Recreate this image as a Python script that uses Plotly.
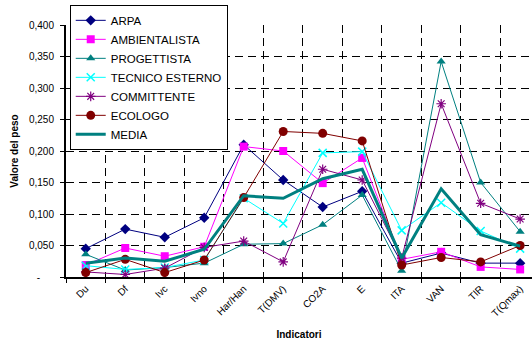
import plotly.graph_objects as go

categories = ["Du", "Df", "Ivc", "Ivno", "Har/Han", "T(DMV)", "CO2A", "E", "ITA", "VAN", "TIR", "T(Qmax)"]

arpa = [0.045, 0.076, 0.063, 0.094, 0.210, 0.154, 0.111, 0.136, 0.022, 0.038, 0.022, 0.022]
ambientalista = [0.019, 0.046, 0.033, 0.048, 0.207, 0.200, 0.149, 0.189, 0.028, 0.040, 0.016, 0.012]
progettista = [0.036, 0.011, 0.015, 0.022, 0.052, 0.053, 0.083, 0.130, 0.010, 0.342, 0.150, 0.072]
tecnico = [0.018, 0.012, 0.015, 0.027, 0.125, 0.085, 0.197, 0.199, 0.074, 0.118, 0.073, 0.045]
committente = [0.008, 0.004, 0.014, 0.047, 0.057, 0.024, 0.171, 0.154, 0.030, 0.275, 0.117, 0.092]
ecologo = [0.007, 0.028, 0.007, 0.027, 0.126, 0.231, 0.228, 0.216, 0.019, 0.031, 0.024, 0.050]
media = [0.022, 0.030, 0.025, 0.044, 0.129, 0.125, 0.156, 0.171, 0.030, 0.140, 0.067, 0.049]

y_ticks = [0, 0.05, 0.10, 0.15, 0.20, 0.25, 0.30, 0.35, 0.40]
y_ticktext = ["-\u00a0\u00a0\u00a0\u00a0\u00a0", "0,050", "0,100", "0,150", "0,200", "0,250", "0,300", "0,350", "0,400"]

FONT = "Arial, Liberation Sans, sans-serif"

series = [
    ("ARPA", arpa, "#000080", dict(symbol="diamond", size=8, color="#000080")),
    ("AMBIENTALISTA", ambientalista, "#FF00FF", dict(symbol="square", size=8, color="#FF00FF")),
    ("PROGETTISTA", progettista, "#008080", dict(symbol="triangle-up", size=8, color="#008080")),
    ("TECNICO ESTERNO", tecnico, "#00FFFF", dict(symbol="x-thin-open", size=8, color="#00FFFF", line=dict(color="#00FFFF", width=1.5))),
    ("COMMITTENTE", committente, "#800080", dict(symbol="asterisk-open", size=8, color="#800080", line=dict(color="#800080", width=1.2))),
    ("ECOLOGO", ecologo, "#800000", dict(symbol="circle", size=9, color="#800000")),
]

fig = go.Figure()
for name, vals, col, mk in series:
    fig.add_trace(go.Scatter(x=categories, y=vals, name=name, mode="lines+markers",
                             line=dict(color=col, width=1), marker=mk))
fig.add_trace(go.Scatter(x=categories, y=media, name="MEDIA", mode="lines",
                         line=dict(color="#008080", width=3)))

fig.update_layout(
    width=532, height=340,
    margin=dict(l=66, r=0, t=25, b=63),
    paper_bgcolor="white", plot_bgcolor="white",
    font=dict(family=FONT, size=10, color="black"),
    showlegend=True,
    legend=dict(x=0.008, y=1.08, xanchor="left", yanchor="top",
                bgcolor="white", bordercolor="black", borderwidth=1,
                font=dict(family=FONT, size=11.5, color="black"),
                tracegroupgap=0, itemwidth=30),
)
fig.update_xaxes(
    type="category", range=[-0.5, 11.3],
    tickson="boundaries", ticks="outside", ticklen=4, tickcolor="black",
    tickangle=-45, tickfont=dict(size=10),
    showline=True, linecolor="black", linewidth=2,
    showgrid=True, gridcolor="black", gridwidth=1, griddash="8px,5px",
    title=dict(text="<b>Indicatori</b>", font=dict(size=10), standoff=14),
    automargin=False,
)
fig.update_yaxes(
    range=[0, 0.4], tickvals=y_ticks, ticktext=y_ticktext,
    ticks="outside", ticklen=4, tickcolor="black", ticklabelstandoff=4,
    showline=True, linecolor="black", linewidth=2, zeroline=False,
    showgrid=True, gridcolor="black", gridwidth=1, griddash="8px,5px",
    title=dict(text="<b>Valore del peso</b>", font=dict(size=10), standoff=8),
    automargin=False,
)
fig.write_html("out.html")
